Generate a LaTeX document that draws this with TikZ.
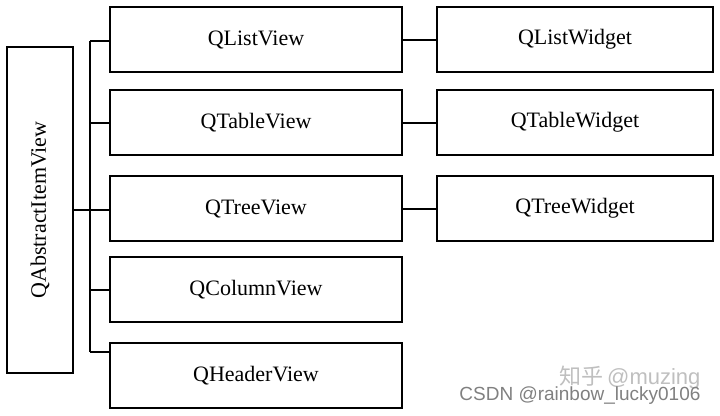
\documentclass[tikz,border=0pt]{standalone}
\usepackage{fontspec}
\setmainfont{Liberation Serif}
\newfontfamily\markfont{Liberation Sans}
\newfontfamily\cjkfont{Noto Sans CJK SC}
\usetikzlibrary{positioning}
\tikzset{%
    classbox/.style={%
        draw, line width=2pt, inner sep=0pt,
        font=\fontsize{22}{26}\selectfont
    },
    viewbox/.style={classbox, minimum width=292pt, minimum height=65pt},
    widgetbox/.style={classbox, minimum width=276pt, minimum height=65pt},
    link/.style={line width=2pt}
}

\begin{document}
\begin{tikzpicture}[x=1pt, y=-1pt]
\useasboundingbox (0,0) rectangle (720,415);
\node [classbox, minimum width=66pt, minimum height=326pt] (abstract) at (40,210) {\rotatebox{90}{QAbstractItemView}};
\node [viewbox] (list) at (256,39.5) {QListView};
\node [viewbox] (table) at (256,122.5) {QTableView};
\node [viewbox] (tree) at (256,208.5) {QTreeView};
\node [viewbox] (column) at (256,289.5) {QColumnView};
\node [viewbox] (header) at (256,375.5) {QHeaderView};
\node [widgetbox] (listw) at (575,39.5) {QListWidget};
\node [widgetbox] (tablew) at (575,122.5) {QTableWidget};
\node [widgetbox] (treew) at (575,208.5) {QTreeWidget};
\coordinate (trunktop) at (90,41);
\coordinate (trunkbot) at (90,352);
\draw [link] (trunktop) -- (trunkbot);
\draw [link] (trunktop) -- (trunktop -| list.west);
\draw [link] (trunkbot) -- (trunkbot -| header.west);
\draw [link] (abstract.east) -- (abstract.east -| tree.west);
\draw [link] (trunktop |- table.west) -- (table.west);
\draw [link] (trunktop |- column.west) -- (column.west);
\draw [link] (list.east) -- (listw.west);
\draw [link] (table.east) -- (tablew.west);
\draw [link] (tree.east) -- (treew.west);
\node [text=black!25, font=\fontsize{22}{24}\selectfont, anchor=east] (zhihu) at (704,378) {\cjkfont 知乎\,\markfont @muzing};
\node [text=black!50, font=\markfont\fontsize{19}{22}\selectfont, anchor=east] (csdn) at (704,396) {CSDN @rainbow\_lucky0106};
\end{tikzpicture}
\end{document}
